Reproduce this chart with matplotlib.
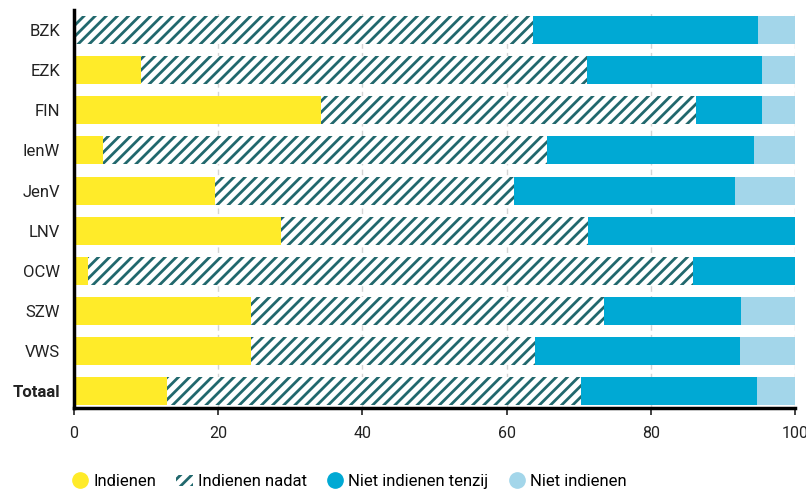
import numpy as np
import matplotlib.pyplot as plt
from matplotlib.patches import Patch
from matplotlib.lines import Line2D

# shares per ministerie (percent)
ministeries = ["BZK", "EZK", "FIN", "IenW", "JenV", "LNV", "OCW", "SZW", "VWS", "Totaal"]
indienen = [0.0, 9.3, 34.3, 4.0, 19.6, 28.7, 1.9, 24.6, 24.5, 12.9]
indienen_nadat = [63.7, 61.9, 52.0, 61.6, 41.4, 42.6, 84.0, 48.9, 39.5, 57.4]
niet_tenzij = [31.2, 24.2, 9.1, 28.7, 30.7, 28.7, 14.1, 19.0, 28.4, 24.4]
niet_indienen = [5.1, 4.6, 4.6, 5.7, 8.3, 0.0, 0.0, 7.5, 7.6, 5.3]

series_names = ["Indienen", "Indienen nadat", "Niet indienen tenzij", "Niet indienen"]

yellow = "#ffeb29"
teal = "#21686d"
blue = "#00a9d4"
lightblue = "#a3d6ea"

plt.rcParams['font.family'] = ['Roboto', 'DejaVu Sans']
plt.rcParams['hatch.linewidth'] = 2.0

fig = plt.figure(figsize=(8.06, 4.92), dpi=100)
ax = fig.add_axes([0.0918, 0.1707, 0.8945, 0.809])

y = np.arange(len(ministeries))
h = 0.7
left = np.zeros(len(ministeries))

ax.barh(y, indienen, left=left, height=h, color=yellow, linewidth=0)
left += indienen
ax.barh(y, indienen_nadat, left=left, height=h, color="white",
        edgecolor=teal, hatch="///", linewidth=0)
left += indienen_nadat
ax.barh(y, niet_tenzij, left=left, height=h, color=blue, linewidth=0)
left += niet_tenzij
ax.barh(y, niet_indienen, left=left, height=h, color=lightblue, linewidth=0)

ax.set_xlim(0, 100)
ax.set_ylim(len(ministeries) - 0.58, -0.5)
ax.set_xticks([0, 20, 40, 60, 80, 100])
ax.set_yticks(y)
ax.set_yticklabels(ministeries)
ax.get_yticklabels()[-1].set_fontweight("bold")
ax.tick_params(axis='y', length=0, labelsize=12, pad=10, colors="#222222")
ax.tick_params(axis='x', length=5, width=1.2, labelsize=11.5, pad=8, colors="#222222")

ax.set_axisbelow(True)
ax.grid(axis='x', color="#d4d4d4", linestyle=(0, (4, 3)), linewidth=1)
for s in ["top", "right"]:
    ax.spines[s].set_visible(False)
ax.spines["left"].set_linewidth(2.5)
ax.spines["bottom"].set_linewidth(2.5)

handles = [
    Line2D([], [], marker='o', linestyle='', markersize=11, color=yellow),
    Patch(facecolor="white", edgecolor=teal, hatch="///", linewidth=0),
    Line2D([], [], marker='o', linestyle='', markersize=11, color=blue),
    Line2D([], [], marker='o', linestyle='', markersize=11, color=lightblue),
]
fig.legend(handles, series_names, loc="lower left", bbox_to_anchor=(0.07, -0.025),
           ncol=4, frameon=False, fontsize=12, handlelength=1.0, handletextpad=0.3,
           columnspacing=1.2)

fig.savefig("out.png", dpi=100)
